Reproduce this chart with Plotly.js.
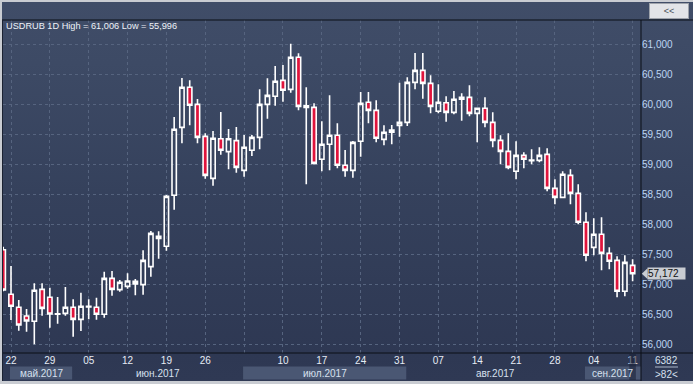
<!DOCTYPE html>
<html><head><meta charset="utf-8">
<script src="https://cdn.plot.ly/plotly-3.0.1.min.js"></script>
<style>
html,body{margin:0;padding:0;background:#c9ccd2;}
#wrap{position:relative;width:693px;height:384px;overflow:hidden;background:#c9ccd2;}
#panel{position:absolute;left:2px;top:2px;width:691px;height:379px;
  background:linear-gradient(to bottom,#404d68 0px,#3d4a65 60px,#35415c 190px,#2e3853 351px,#2f3954 379px);}
#chart{position:absolute;left:0;top:0;width:693px;height:384px;}
</style></head>
<body><div id="wrap"><div id="panel"></div><div id="chart"></div></div>
<script>
const dates = ['2017-05-19','2017-05-22','2017-05-23','2017-05-24','2017-05-25','2017-05-26','2017-05-29','2017-05-30','2017-05-31',
'2017-06-01','2017-06-02','2017-06-05','2017-06-06','2017-06-07','2017-06-08','2017-06-09','2017-06-12','2017-06-13','2017-06-14','2017-06-15','2017-06-16',
'2017-06-19','2017-06-20','2017-06-21','2017-06-22','2017-06-23','2017-06-26','2017-06-27','2017-06-28','2017-06-29','2017-06-30',
'2017-07-03','2017-07-04','2017-07-05','2017-07-06','2017-07-07','2017-07-10','2017-07-11','2017-07-12','2017-07-13','2017-07-14',
'2017-07-17','2017-07-18','2017-07-19','2017-07-20','2017-07-21','2017-07-24','2017-07-25','2017-07-26','2017-07-27','2017-07-28','2017-07-31',
'2017-08-01','2017-08-02','2017-08-03','2017-08-04','2017-08-07','2017-08-08','2017-08-09','2017-08-10','2017-08-11',
'2017-08-14','2017-08-15','2017-08-16','2017-08-17','2017-08-18','2017-08-21','2017-08-22','2017-08-23','2017-08-24','2017-08-25',
'2017-08-28','2017-08-29','2017-08-30','2017-08-31','2017-09-01','2017-09-04','2017-09-05','2017-09-06','2017-09-07','2017-09-08','2017-09-11'];

const open = [57570,56828,56612,56467,56378,56911,56778,56495,56511,56612,56411,56617,56612,56495,57094,56906,56961,57044,56989,57289,
57794,57628,58478,59611,60278,59994,59461,58761,59422,59206,59389,58894,59228,59444,59994,60128,60394,60244,60778,59972,
59944,59078,59328,59478,58978,58894,59378,60028,59894,59411,59528,59644,59694,60361,60561,60344,59878,60022,59861,60078,
60111,59844,59928,59694,59394,59211,58878,59144,59055,59061,59161,58594,58444,58811,58511,58028,57611,57828,57511,57394,
56878,57311];
const high = [57620,57300,56733,56583,57011,57011,56939,56783,56950,56744,56856,56744,56772,57206,57217,57067,57178,57083,57561,57883,
57878,58483,59783,60433,60394,60083,59511,59550,59867,59583,59617,59483,59483,60244,60428,60633,60650,61006,60844,60278,
60011,59711,60144,59678,59233,59383,60200,60200,60061,59644,59650,60356,60444,60850,60850,60478,60328,60128,60217,60178,
60311,59940,60111,59861,59478,59511,59378,59194,59244,59278,59261,58744,58878,58911,58661,58194,58094,58111,57611,57461,
57478,57411];
const low = [56880,56400,56222,56205,55996,56472,56272,56339,56472,56122,56217,56411,56406,56439,56806,56872,56922,56811,56822,57122,
57422,57556,58239,59344,59644,59344,58756,58639,59156,58911,58856,58789,59133,59244,59756,59972,60039,60189,59894,58661,
58990,58878,58894,58928,58789,58772,59122,59678,59361,59311,59328,59456,59633,60244,60089,59844,59844,59706,59828,59722,
59794,59361,59611,59278,58994,58911,58744,58928,58994,59028,58544,58328,58428,58328,57994,57378,57478,57228,57244,56778,
56794,57044];
const close = [56900,56628,56317,56383,56895,56594,56500,56505,56612,56411,56628,56628,56495,57094,56911,57028,57050,57000,57394,57844,
57761,58461,59578,60278,59978,59444,58811,59428,59228,59422,58944,59278,59444,59994,60144,60378,60228,60778,59961,59944,
59011,59328,59478,58978,58894,59361,60011,59894,59428,59528,59567,59694,60361,60561,60344,59961,60028,59861,60078,60111,
59844,59928,59694,59394,59211,58944,59144,59078,59067,59144,58594,58444,58828,58511,58028,57478,57828,57511,57378,56878,
57361,57172];

const tickDates = ['2017-05-22','2017-05-29','2017-06-05','2017-06-12','2017-06-19','2017-06-26','2017-07-03','2017-07-10','2017-07-17',
'2017-07-24','2017-07-31','2017-08-07','2017-08-14','2017-08-21','2017-08-28','2017-09-04','2017-09-11'];
const tickLabels = ['22','29','05','12','19','26','','10','17','24','31','07','14','21','28','04','11'];
const priceTicks = [56000,56500,57000,57500,58000,58500,59000,59500,60000,60500,61000];
const priceLabels = ['56,000','56,500','57,000','57,500','58,000','58,500','59,000','59,500','60,000','60,500','61,000'];
const monthNames = ['май.2017','июн.2017','июл.2017','авг.2017','сен.2017'];
const monthStarts = ['2017-05-22','2017-06-01','2017-07-03','2017-08-01','2017-09-01'];
const titleText = 'USDRUB 1D High = 61,006 Low = 55,996';

const FONT = 'Liberation Sans, Arial, sans-serif';
const xRange = [-0.03, 82.08];
// pixel helpers for layout decoration (plot area: x 3..641, y 20..353)
const px = X => (X - 3) / 638;
const py = Y => (353 - Y) / 333;

const trace = {
  type: 'candlestick', x: dates, open: open, high: high, low: low, close: close,
  increasing: {line: {color: '#ffffff', width: 1.6}, fillcolor: 'rgba(0,0,0,0)'},
  decreasing: {line: {color: '#ffffff', width: 1.6}, fillcolor: '#e0143c'},
  whiskerwidth: 0, hoverinfo: 'skip', showlegend: false
};

const shapes = [];
const annotations = [];
// month bands & labels
const edgeShift = 0.13;
for (let m = 0; m < monthNames.length; m++) {
  const a = dates.indexOf(monthStarts[m]) - edgeShift;
  const b = (m + 1 < monthStarts.length) ? dates.indexOf(monthStarts[m + 1]) - edgeShift : xRange[1];
  if (m % 2 === 0) {
    shapes.push({type: 'rect', xref: 'x', yref: 'paper', x0: a, x1: b, y0: py(379.5), y1: py(366.5),
      fillcolor: '#4a5773', line: {width: 0}, layer: 'below'});
  }
  annotations.push({xref: 'x', yref: 'paper', x: (a + b) / 2, y: py(373), text: monthNames[m], showarrow: false,
    xanchor: 'center', yanchor: 'middle', font: {family: FONT, size: 10, color: '#d6e0ee'}});
}
// current bar highlight at bottom
const lastIdx = dates.length - 1;
shapes.push({type: 'rect', xref: 'x', yref: 'paper', x0: lastIdx - 0.42, x1: lastIdx + 0.42, y0: py(380), y1: py(354),
  fillcolor: 'rgba(24,31,52,0.55)', line: {width: 0}});
// frame lines
shapes.push({type: 'line', xref: 'paper', yref: 'paper', x0: px(2), x1: px(693), y0: py(20), y1: py(20), line: {color: '#0b0e16', width: 1}});
shapes.push({type: 'line', xref: 'paper', yref: 'paper', x0: px(2), x1: px(693), y0: py(353), y1: py(353), line: {color: '#0b0e16', width: 1}});
shapes.push({type: 'line', xref: 'paper', yref: 'paper', x0: px(641), x1: px(641), y0: py(20), y1: py(381), line: {color: '#0b0e16', width: 1}});
shapes.push({type: 'line', xref: 'paper', yref: 'paper', x0: px(2.5), x1: px(2.5), y0: py(20), y1: py(381), line: {color: '#1b2232', width: 1}});
// price tag arrow
const last = close[lastIdx];
shapes.push({type: 'path', xref: 'paper', yref: 'y',
  path: `M ${px(641.8)},${last} L ${px(647.5)},${last + 90} L ${px(647.5)},${last - 90} Z`,
  fillcolor: '#c8ccd2', line: {width: 0}});
annotations.push({xref: 'paper', yref: 'y', x: px(647), y: last, xanchor: 'left', yanchor: 'middle',
  text: last.toLocaleString('en-US'), showarrow: false, bgcolor: '#c8ccd2', borderpad: 0,
  width: 37, height: 11, align: 'left', font: {family: FONT, size: 10, color: '#111111'}});
// title
annotations.push({xref: 'paper', yref: 'paper', x: px(4), y: py(26), xanchor: 'left', yanchor: 'middle', text: titleText,
  showarrow: false, font: {family: FONT, size: 9.2, color: '#eef2f8'}});
// top-right button
annotations.push({xref: 'paper', yref: 'paper', x: px(669), y: py(11.5), xanchor: 'center', yanchor: 'middle', text: '&lt;&lt;',
  showarrow: false, bgcolor: '#e2e4e8', bordercolor: '#9ea3ab', borderwidth: 1, width: 36, height: 12,
  font: {family: FONT, size: 9, color: '#4a4f58'}});
// bottom-right counters
annotations.push({xref: 'paper', yref: 'paper', x: px(666), y: py(360.5), xanchor: 'center', yanchor: 'middle', text: '6382',
  showarrow: false, font: {family: FONT, size: 10, color: '#d6e0ee'}});
annotations.push({xref: 'paper', yref: 'paper', x: px(666), y: py(374), xanchor: 'center', yanchor: 'middle', text: '&gt;82&lt;',
  showarrow: false, font: {family: FONT, size: 10, color: '#d6e0ee'}});
shapes.push({type: 'line', xref: 'paper', yref: 'paper', x0: px(655), x1: px(678), y0: py(367), y1: py(367), line: {color: '#aab6c8', width: 1}});

const layout = {
  width: 693, height: 384,
  margin: {l: 3, r: 52, t: 20, b: 31, pad: 0},
  paper_bgcolor: 'rgba(0,0,0,0)', plot_bgcolor: 'rgba(0,0,0,0)',
  showlegend: false, boxgap: 0.2, dragmode: false,
  xaxis: {type: 'category', range: xRange, rangeslider: {visible: false}, tickvals: tickDates, ticktext: tickLabels,
    showgrid: true, gridcolor: '#56647f', griddash: '3px,3px', gridwidth: 1, ticks: '', showline: false, zeroline: false,
    tickfont: {family: FONT, size: 10, color: '#e6ecf5'}, fixedrange: true},
  yaxis: {side: 'right', range: [55850, 61400], tickvals: priceTicks, ticktext: priceLabels,
    showgrid: true, gridcolor: '#56647f', griddash: '3px,3px', gridwidth: 1, ticks: '', showline: false, zeroline: false,
    tickfont: {family: FONT, size: 10, color: '#bcd5f3'}, fixedrange: true},
  shapes: shapes, annotations: annotations
};
Plotly.newPlot('chart', [trace], layout, {displayModeBar: false, staticPlot: true});
</script>
</body></html>
